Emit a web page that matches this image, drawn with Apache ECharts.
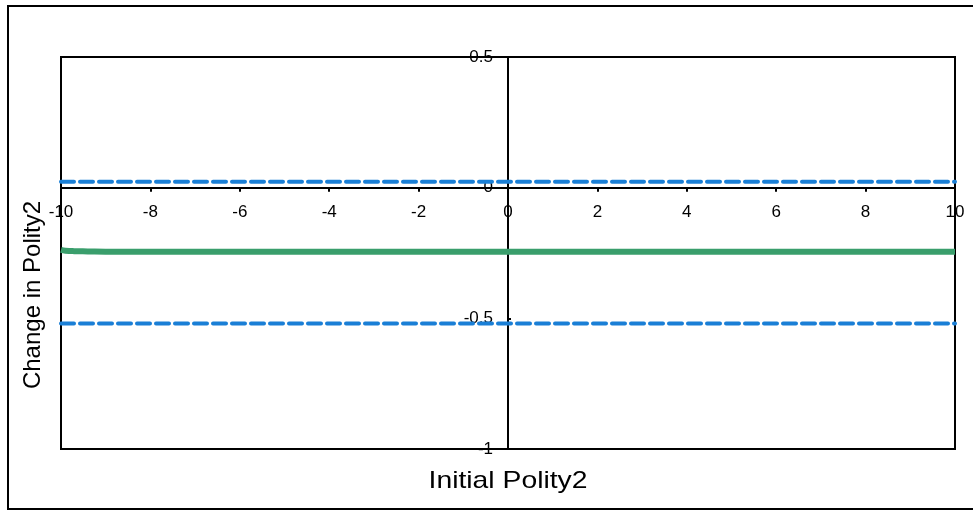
<!DOCTYPE html>
<html><head><meta charset="utf-8">
<script src="https://cdn.jsdelivr.net/npm/echarts@6/dist/echarts.min.js"></script>
<style>html,body{margin:0;padding:0;background:#fff}#c{width:973px;height:510px}</style>
</head><body><div id="c"></div>
<script>
var xTicks = [-10,-8,-6,-4,-2,0,2,4,6,8,10];
var yTicks = [-1,-0.5,0,0.5];
var xs = [-10,-9.9,-9.7,-9.4,-9,-8,-6,-4,-2,0,2,4,6,8,10];
var estimate = [-0.238,-0.241,-0.243,-0.244,-0.245,-0.245,-0.245,-0.245,-0.245,-0.245,-0.245,-0.245,-0.245,-0.245,-0.245];
var upperCI = [0.023,0.023,0.023,0.023,0.023,0.023,0.023,0.023,0.023,0.023,0.023,0.023,0.023,0.023,0.023];
var lowerCI = [-0.52,-0.52,-0.52,-0.52,-0.52,-0.52,-0.52,-0.52,-0.52,-0.52,-0.52,-0.52,-0.52,-0.52,-0.52];
var xTitle = 'Initial Polity2';
var yTitle = 'Change in Polity2';

function pairs(ys){ return xs.map(function(x,i){ return [x, ys[i]]; }); }
var font = 'Liberation Sans, Arial, sans-serif';
var G = {left:61, right:18, top:57, bottom:61};
var W = 973, H = 510;
var xMin = xTicks[0], xMax = xTicks[xTicks.length-1];
var yMin = yTicks[0], yMax = yTicks[yTicks.length-1];
var plotW = W - G.left - G.right, plotH = H - G.top - G.bottom;
var xOff = -(plotH * (0 - yMin) / (yMax - yMin));
var yOff = -(plotW * (0 - xMin) / (xMax - xMin));
var chart = echarts.init(document.getElementById('c'), null, {renderer:'canvas'});
var dash = {color:'#1a7fd6', width:4, type:[13,6], cap:'round'};
var lbl = {color:'#000', fontFamily:font, fontSize:17};
chart.setOption({
  animation:false,
  grid:{left:G.left, right:G.right, top:G.top, bottom:G.bottom, show:true, borderColor:'#000', borderWidth:2, backgroundColor:'transparent'},
  xAxis:[
    {type:'value', min:xMin, max:xMax, interval:2,
    axisLine:{onZero:true, lineStyle:{color:'#000', width:2}},
    axisTick:{show:true, length:4, lineStyle:{color:'#000', width:2}},
    axisLabel:{show:false}, splitLine:{show:false}},
    {type:'value', min:xMin, max:xMax, interval:2, position:'bottom', offset:xOff,
    axisLine:{show:false, onZero:false}, axisTick:{show:false},
    axisLabel:Object.assign({margin:16}, lbl), splitLine:{show:false}}
  ],
  yAxis:[
    {type:'value', min:yMin, max:yMax, interval:0.5,
    axisLine:{onZero:true, lineStyle:{color:'#000', width:2}},
    axisTick:{show:true, inside:true, length:3, lineStyle:{color:'#000', width:2}},
    axisLabel:{show:false}, splitLine:{show:false}},
    {type:'value', min:yMin, max:yMax, interval:0.5, position:'left', offset:yOff,
    axisLine:{show:false, onZero:false}, axisTick:{show:false},
    axisLabel:Object.assign({margin:15}, lbl), splitLine:{show:false}}
  ],
  series:[
    {type:'line', data:pairs(upperCI), showSymbol:false, lineStyle:dash, z:3},
    {type:'line', data:pairs(lowerCI), showSymbol:false, lineStyle:dash, z:3},
    {type:'line', data:pairs(estimate), showSymbol:false, smooth:true, lineStyle:{color:'#3a9e6c', width:6}, z:4}
  ],
  graphic:[
    {type:'rect', shape:{x:8, y:6, width:990, height:503}, style:{fill:'none', stroke:'#000', lineWidth:2}, silent:true},
    {type:'text', x:508, y:481, scaleX:1.18, style:{text:xTitle, font:'24px '+font, fill:'#000', align:'center', verticalAlign:'middle'}},
    {type:'text', x:33, y:295, rotation:Math.PI/2, style:{text:yTitle, font:'24px '+font, fill:'#000', align:'center', verticalAlign:'middle'}}
  ]
});
</script></body></html>
